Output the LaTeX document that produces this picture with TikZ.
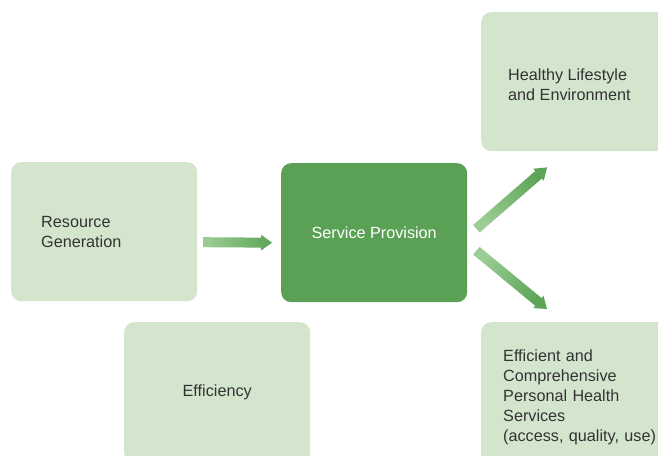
\documentclass[tikz,border=0pt]{standalone}
\usepackage{fontspec}
\setmainfont{Liberation Sans}
\usetikzlibrary{calc}
\definecolor{lightg}{HTML}{D3E5CD}
\definecolor{darkg}{HTML}{5AA155}
\definecolor{arrl}{HTML}{9DCD96}
\definecolor{arrd}{HTML}{5CA457}
\definecolor{txt}{HTML}{333333}
\newcommand\fatarrow[3]{%
  \shade[top color=arrl, bottom color=arrd, shading angle=#3]
    let \p1=($(#2)-(#1)$), \n1={atan2(\y1,\x1)}, \n2={veclen(\x1,\y1)} in
    ($(#1)+(\n1+90:5)$) -- ($(#1)+(\n1:\n2-11)+(\n1+90:5)$) --
    ($(#1)+(\n1:\n2-11)+(\n1+90:8)$) -- (#2) --
    ($(#1)+(\n1:\n2-11)+(\n1-90:8)$) -- ($(#1)+(\n1:\n2-11)+(\n1-90:5)$) --
    ($(#1)+(\n1-90:5)$) -- cycle;}
\begin{document}
\begin{tikzpicture}[x=1pt,y=1pt,
  box/.style={fill=lightg, rounded corners=10pt, minimum width=186pt,
    minimum height=139pt, anchor=north west, inner sep=0pt,
    font=\fontsize{16.2}{20}\selectfont, text=txt},
  darkbox/.style={box, fill=darkg, text=white},
  txtl/.style={align=left, inner sep=0pt, font=\fontsize{16.2}{20}\selectfont, text=txt}]
\clip (0,0) rectangle (658,-455);
\node[box, align=left, text width=126pt] (res) at (11,-162) {Resource\\Generation};
\node[darkbox, align=center] (sp) at (281,-163) {Service Provision};
\node[box] (hl) at (481,-12) {};
\node[txtl, anchor=west] (hlt) at ($(hl.west)+(27,-3)$) {Healthy Lifestyle\\and Environment};
\node[box, align=left, text width=158pt, minimum width=202pt, minimum height=150pt] (eps) at (481,-322)
  {Efficient and\\Comprehensive\\Personal Health\\Services\\(access, quality, use)};
\node[box, minimum height=141pt, align=center] (eff) at (124,-322) {Efficiency};
\coordinate (a1s) at ($(res.east)+(6,-10.5)$);
\coordinate (a1e) at ($(sp.west)+(-9,-10)$);
\coordinate (a2s) at ($(sp.east)+(9,4)$);
\coordinate (a2e) at ($(hl.south west)+(66,-16)$);
\coordinate (a3s) at ($(sp.east)+(9,-18)$);
\coordinate (a3e) at ($(eps.north west)+(66,13)$);
\fatarrow{a1s}{a1e}{90}
\fatarrow{a2s}{a2e}{130.7}
\fatarrow{a3s}{a3e}{50.3}
\end{tikzpicture}
\end{document}
